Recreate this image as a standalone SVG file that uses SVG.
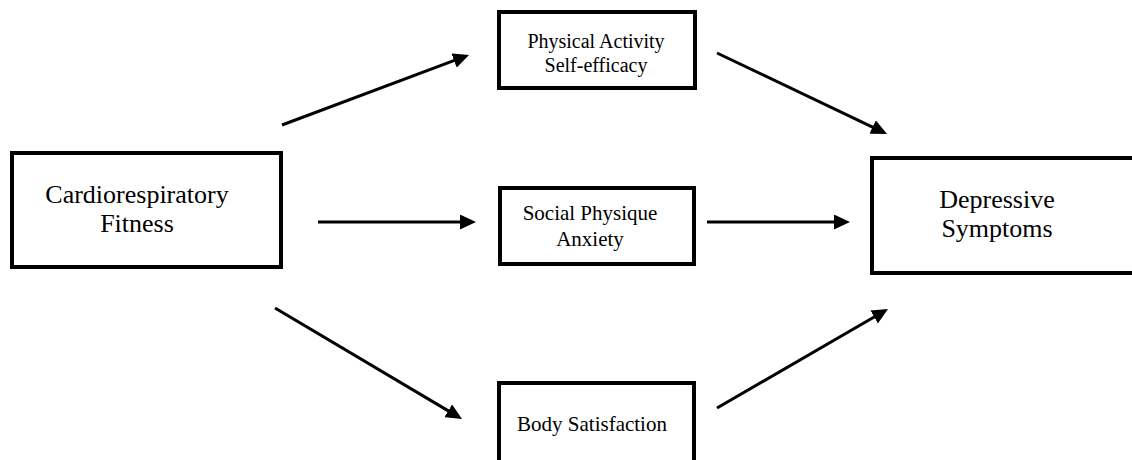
<svg xmlns="http://www.w3.org/2000/svg" width="1132" height="460" viewBox="0 0 1132 460">
  <style>
    .box { fill: #ffffff; stroke: #000000; stroke-width: 4; }
    .lbl { font-family: "Liberation Serif", "Times New Roman", serif; fill: #000000; text-anchor: middle; }
    .big { font-size: 26px; }
    .mid { font-size: 21px; }
    .pa { font-size: 20px; }
    .conn { stroke: #000000; stroke-width: 3; fill: none; marker-end: url(#arrow); }
  </style>
  <defs>
    <marker id="arrow" viewBox="0 0 16 15" refX="4" refY="7.5" markerWidth="16" markerHeight="15" markerUnits="userSpaceOnUse" orient="auto">
      <path d="M0,0 L16,7.5 L0,15 Z" fill="#000000"/>
    </marker>
  </defs>
  <rect width="1132" height="460" fill="#ffffff"/>

  <g id="node-cardio">
    <rect class="box" x="12" y="153" width="269" height="114"/>
    <text class="lbl big" x="137" y="203">Cardiorespiratory</text>
    <text class="lbl big" x="137" y="232">Fitness</text>
  </g>

  <g id="node-pase">
    <rect class="box" x="499" y="12" width="196" height="76"/>
    <text class="lbl pa" x="596" y="48">Physical Activity</text>
    <text class="lbl pa" x="596" y="72">Self-efficacy</text>
  </g>

  <g id="node-spa">
    <rect class="box" x="500" y="188" width="194" height="76"/>
    <text class="lbl mid" x="590" y="220">Social Physique</text>
    <text class="lbl mid" x="590" y="246">Anxiety</text>
  </g>

  <g id="node-body">
    <rect class="box" x="499" y="383" width="195" height="100"/>
    <text class="lbl mid" x="592" y="431">Body Satisfaction</text>
  </g>

  <g id="node-depressive">
    <rect class="box" x="872" y="158" width="270" height="115"/>
    <text class="lbl big" x="997" y="208">Depressive</text>
    <text class="lbl big" x="997" y="237">Symptoms</text>
  </g>

  <g id="connectors">
    <line class="conn" x1="282" y1="125" x2="457.8" y2="59.2"/>
    <line class="conn" x1="717" y1="53" x2="876.2" y2="128.8"/>
    <line class="conn" x1="318" y1="222" x2="464" y2="222"/>
    <line class="conn" x1="707" y1="222" x2="838" y2="222"/>
    <line class="conn" x1="275" y1="308" x2="451.7" y2="412.9"/>
    <line class="conn" x1="717" y1="408" x2="877.6" y2="315"/>
  </g>
</svg>
